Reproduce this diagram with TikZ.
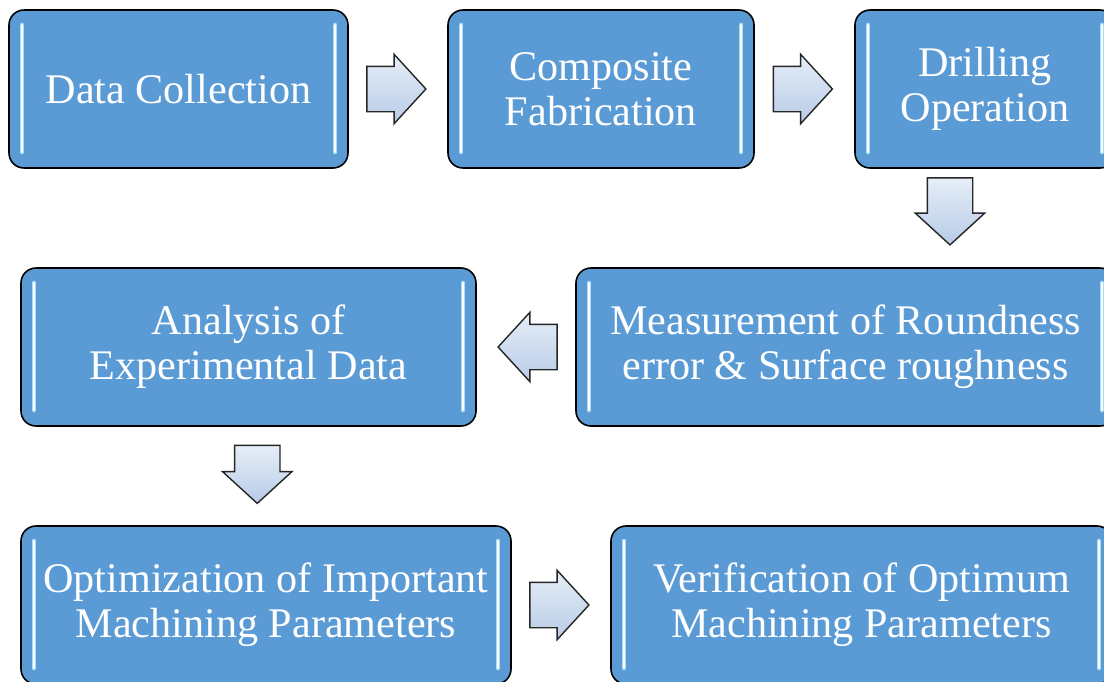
\documentclass[tikz,border=0pt]{standalone}
\usepackage{fontspec}
\setmainfont{Liberation Serif}
\usetikzlibrary{shapes.arrows,calc}
\definecolor{boxblue}{HTML}{5B9BD5}
\definecolor{glosscyan}{HTML}{A9DDF7}
\definecolor{arrowtop}{HTML}{E6EEF8}
\definecolor{arrowbot}{HTML}{B7CBE6}
\tikzset{
    gloss/.style={line width=0.03cm, line cap=round, draw=glosscyan, double=white, double distance=0.035cm},
    stagebox/.style={draw=black, line width=0.9pt, fill=boxblue, rounded corners=0.3cm,
        text=white, align=center, minimum height=3.16cm, inner sep=0pt,
        font=\fontsize{24}{25.5}\selectfont,
        path picture={
            \draw[gloss] ([shift={(0.26,-0.3)}]path picture bounding box.north west) -- ([shift={(0.26,0.32)}]path picture bounding box.south west);
            \draw[gloss] ([shift={(-0.26,-0.3)}]path picture bounding box.north east) -- ([shift={(-0.26,0.32)}]path picture bounding box.south east);
        }},
    flowarrow/.style={single arrow, draw=black!85, line width=0.8pt, top color=arrowtop, bottom color=arrowbot,
        single arrow head extend=0.24cm, single arrow tip angle=95,
        text height=0.44cm, text depth=0.44cm, inner sep=0pt,
        minimum width=1.36cm, minimum height=1.18cm},
}
\begin{document}
\begin{tikzpicture}
\useasboundingbox (0,0) rectangle (22.08,-13.62);

\node[stagebox, minimum width=6.78cm] (dc) at (3.57,-1.78) {Data Collection};
\node[stagebox, minimum width=6.12cm] (cf) at (12.02,-1.78) {Composite\\Fabrication};
\node[stagebox, minimum width=5.2cm] (do) at (19.70,-1.78) {Drilling\\Operation};
\node[stagebox, minimum width=10.78cm] (mr) at (16.91,-6.94) {Measurement of Roundness\\error \& Surface roughness};
\node[stagebox, minimum width=9.1cm] (ad) at (4.97,-6.94) {Analysis of\\Experimental Data};
\node[stagebox, minimum width=9.8cm] (om) at (5.32,-12.10) {Optimization of Important\\Machining Parameters};
\node[stagebox, minimum width=10.02cm] (vm) at (17.23,-12.10) {Verification of Optimum\\Machining Parameters};

\node[flowarrow] (a1) at ($(dc.east)!0.5!(cf.west)+(-0.24,0)$) {};
\node[flowarrow] (a2) at ($(cf.east)!0.5!(do.west)+(-0.24,0)$) {};
\node[flowarrow, rotate=-90, minimum height=1.34cm, minimum width=1.38cm] (a3) at ($(do.south)!0.5!(do.south|-mr.north)+(-0.7,0.34)$) {};
\node[flowarrow, rotate=180] (a4) at ($(mr.west)!0.5!(ad.east)+(0.24,0)$) {};
\node[flowarrow, rotate=-90, minimum height=1.16cm, minimum width=1.38cm] (a5) at ($(ad.south)!0.5!(om.north)+(0,0.24)$) {};
\node[flowarrow] (a6) at ($(om.east)!0.5!(vm.west)+(-0.24,0)$) {};
\end{tikzpicture}
\end{document}
